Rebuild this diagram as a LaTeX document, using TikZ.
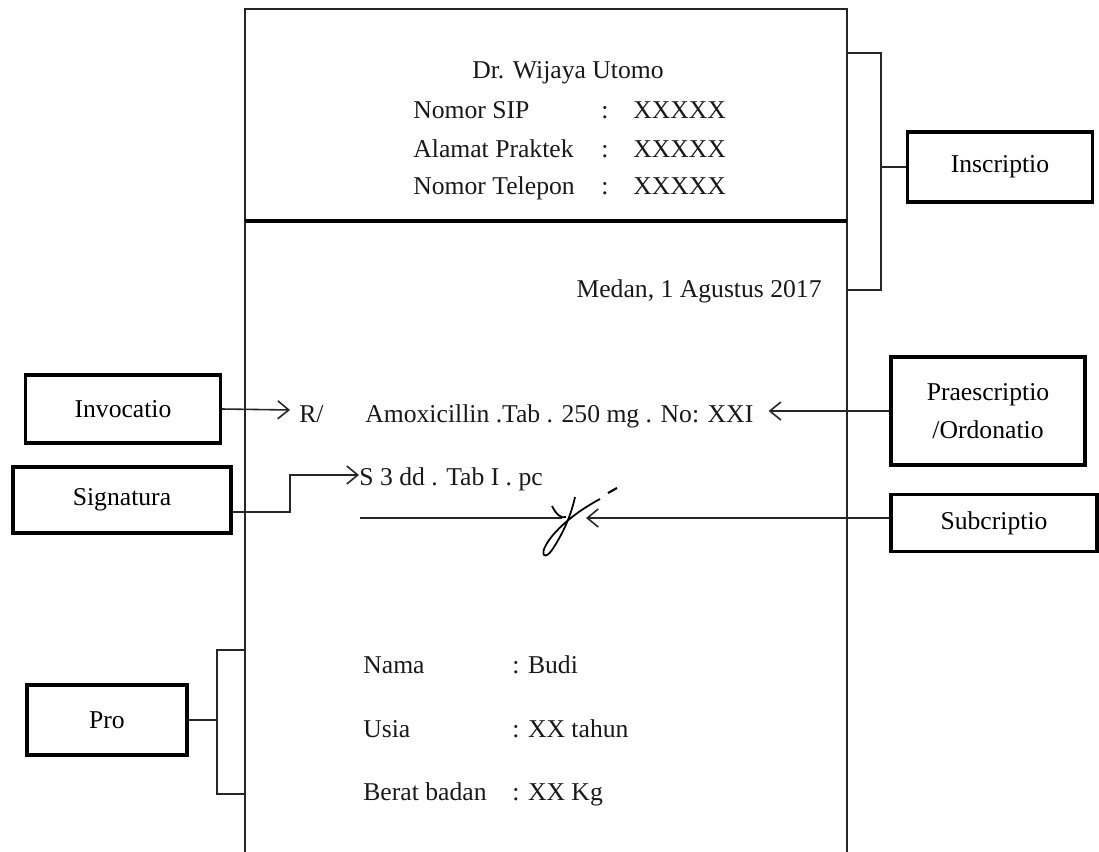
\documentclass[tikz,border=0pt]{standalone}
\usepackage{fontspec}
\setmainfont{Liberation Serif}
\usetikzlibrary{arrows.meta,positioning}

\begin{document}
\begin{tikzpicture}[
        x=0.02cm, y=-0.02cm,
        font=\fontsize{14.6}{17}\selectfont,
        partbox/.style={rectangle, draw=black, line width=2pt, align=center, inner sep=2pt},
        entry/.style={inner sep=0pt, text=black!90},
        frame/.style={draw=black!85, line width=0.9pt},
        link/.style={draw=black!85, line width=0.9pt},
        arrow/.style={link, -{Straight Barb[length=2.2mm, width=3.6mm]}}
    ]
        \useasboundingbox (0,0) rectangle (1099,852);

        % resep
        \draw[frame] (245,852) |- (847,9) -- (847,852);
        \draw[line width=2.3pt] (245,221) -- (847,221);

        \node[entry, anchor=base] (dokter) at (568,78) {Dr. Wijaya Utomo};
        \node[entry, anchor=base west] (sip) at (413,118) {Nomor SIP};
        \node[entry, anchor=base west] (alamat) at (413,157) {Alamat Praktek};
        \node[entry, anchor=base west] (telepon) at (413,194) {Nomor Telepon};
        \node[entry, anchor=base west] (sipcolon) at (601,118) {:};
        \node[entry, anchor=base west] (alamatcolon) at (601,157) {:};
        \node[entry, anchor=base west] (teleponcolon) at (601,194) {:};
        \node[entry, anchor=base west] (sipval) at (633,118) {XXXXX};
        \node[entry, anchor=base west] (alamatval) at (633,157) {XXXXX};
        \node[entry, anchor=base west] (teleponval) at (633,194) {XXXXX};

        \node[entry, anchor=base east] (tanggal) at (822,297) {Medan, 1 Agustus 2017};
        \node[entry, anchor=base west] (resep) at (299,422) {R/};
        \node[entry, anchor=base west] (obat) at (365,422) {Amoxicillin .Tab . 250 mg . No: XXI};
        \node[entry, anchor=base west] (aturan) at (359,485) {S 3 dd . Tab I . pc};

        \node[entry, anchor=base west] (nama) at (363,673) {Nama};
        \node[entry, anchor=base west] (usia) at (363,737) {Usia};
        \node[entry, anchor=base west] (berat) at (363,800) {Berat badan};
        \node[entry, anchor=base west] (namaval) at (512,673) {: Budi};
        \node[entry, anchor=base west] (usiaval) at (512,737) {: XX tahun};
        \node[entry, anchor=base west] (beratval) at (512,800) {: XX Kg};

        % paraf
        \coordinate (sigstart) at (360,518);
        \coordinate (sigend) at (562,518);
        \coordinate (signtip) at (586,518);
        \draw[link] (sigstart) -- (sigend);
        \draw[line width=1pt] (552,506) .. controls (556,514) and (561,519) .. (566,517);
        \draw[line width=1pt] (575,497) .. controls (570,520) and (560,538) .. (552,550)
            .. controls (545,560) and (540,555) .. (546,545)
            .. controls (553,532) and (572,514) .. (600,499);
        \draw[line width=1.2pt] (608,493) -- (617,488);

        % bagian resep
        \node[partbox, minimum width=3.7cm, minimum height=1.4cm] (inscriptio) at (1000,167) {Inscriptio};
        \node[partbox, minimum width=3.9cm, minimum height=1.36cm] (invocatio) at (123,409) {Invocatio};
        \node[partbox, minimum width=4.36cm, minimum height=1.32cm] (signatura) at (122,500) {Signatura};
        \node[partbox, minimum width=3.2cm, minimum height=1.4cm] (pro) at (107,720) {Pro};
        \node[partbox, minimum width=3.88cm, minimum height=2.16cm, font=\fontsize{14.6}{21.5}\selectfont] (praescriptio) at (988,411) {Praescriptio\\/Ordonatio};
        \node[partbox, minimum width=4.12cm, minimum height=1.14cm] (subcriptio) at (994,523) {Subcriptio};

        \draw[link] (847,53) -| (881,290) -- (847,290);
        \draw[link] (881,167) -- (inscriptio.west);
        \draw[link] (245,650) -| (217,794) -- (245,794);
        \draw[link] (pro.east) -- (217,720);

        \draw[arrow] (invocatio.east) -- ([xshift=-0.18cm, yshift=0.24cm]resep.base west);
        \draw[arrow] ([yshift=-0.24cm]signatura.east) -- (290,512) |- ([yshift=0.2cm]aturan.base west);
        \draw[arrow] (praescriptio.west) -- ([xshift=0.3cm, yshift=0.22cm]obat.base east);
        \draw[arrow] ([yshift=0.1cm]subcriptio.west) -- (signtip);
    \end{tikzpicture}
\end{document}
